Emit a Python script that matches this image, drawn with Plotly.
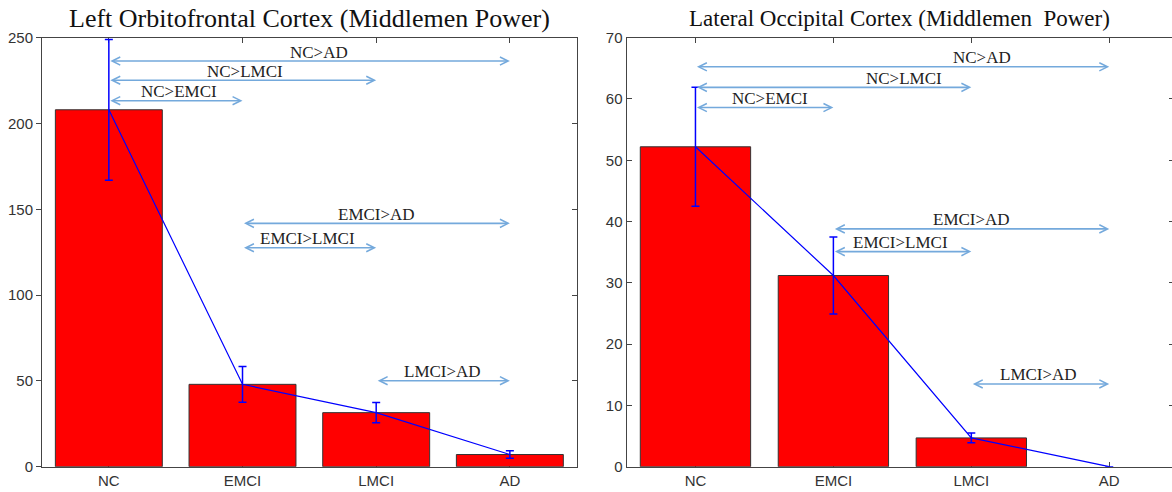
import plotly.graph_objects as go

# Group means and standard errors per region
categories = ["NC", "EMCI", "LMCI", "AD"]

lofc_mean = [208, 48, 31.5, 7.1]
lofc_err = [41, 10.4, 5.9, 2.2]

loc_mean = [52.2, 31.2, 4.7, 0]
loc_err = [9.7, 6.3, 0.8, None]

lofc_ticks = [0, 50, 100, 150, 200, 250]
loc_ticks = [0, 10, 20, 30, 40, 50, 60, 70]

# Significant group differences: (label, from group, to group, arrow level, label centre)
lofc_pairs = [
    ("NC>AD", "NC", "AD", 236.4, 1.57),
    ("NC>LMCI", "NC", "LMCI", 225.2, 1.02),
    ("NC>EMCI", "NC", "EMCI", 213.3, 0.525),
    ("EMCI>AD", "EMCI", "AD", 141.8, 2.0),
    ("EMCI>LMCI", "EMCI", "LMCI", 127.6, 1.486),
    ("LMCI>AD", "LMCI", "AD", 50.1, 2.495),
]
loc_pairs = [
    ("NC>AD", "NC", "AD", 65.25, 2.076),
    ("NC>LMCI", "NC", "LMCI", 61.9, 1.514),
    ("NC>EMCI", "NC", "EMCI", 58.6, 0.54),
    ("EMCI>AD", "EMCI", "AD", 38.8, 2.0),
    ("EMCI>LMCI", "EMCI", "LMCI", 35.1, 1.485),
    ("LMCI>AD", "LMCI", "AD", 13.5, 2.49),
]

W, H = 1172, 492
BAR_RED = "#ff0000"
BLUE = "#0000ff"
ARROW_BLUE = "#74a9dc"
AXIS_COL = "#444444"
TICK_FONT = dict(family="Liberation Sans, Arial, sans-serif", size=15, color="#333333")
SERIF = "Liberation Serif, Times New Roman, serif"

fig = go.Figure()


def add_panel(xa, ya, means, errs):
    # a zero-height bar gets no outline
    outline = [1 if m > 0 else 0 for m in means]
    fig.add_trace(go.Bar(
        x=categories, y=means, width=0.8,
        marker=dict(color=BAR_RED, line=dict(color="#333333", width=outline)),
        xaxis=xa, yaxis=ya, showlegend=False, hoverinfo="skip",
    ))
    fig.add_trace(go.Scatter(
        x=categories, y=means, mode="lines",
        line=dict(color=BLUE, width=1.2),
        error_y=dict(type="data", array=errs, visible=True,
                     color=BLUE, thickness=1.5, width=4),
        xaxis=xa, yaxis=ya, showlegend=False, hoverinfo="skip",
    ))


add_panel("x", "y", lofc_mean, lofc_err)
add_panel("x2", "y2", loc_mean, loc_err)

# Invisible traces carrying the right-hand tick axes
fig.add_trace(go.Scatter(x=[categories[0]], y=[0], mode="markers",
                         marker=dict(opacity=0), xaxis="x", yaxis="y3",
                         showlegend=False, hoverinfo="skip"))
fig.add_trace(go.Scatter(x=[categories[0]], y=[0], mode="markers",
                         marker=dict(opacity=0), xaxis="x2", yaxis="y4",
                         showlegend=False, hoverinfo="skip"))

y_dom = [(H - 466.7) / H, (H - 37.7) / H]
left_dom = [42 / W, 576.7 / W]
right_dom = [626.5 / W, 1.0]

xcommon = dict(
    type="category", categoryorder="array", categoryarray=categories,
    showline=True, linecolor=AXIS_COL, linewidth=1, mirror="ticks",
    ticks="inside", ticklen=5, tickcolor=AXIS_COL, tickfont=TICK_FONT,
    showgrid=False, zeroline=False, layer="below traces", automargin=False,
)
ycommon = dict(showgrid=False, zeroline=False, automargin=False,
               tickcolor=AXIS_COL, tickfont=TICK_FONT)

fig.update_layout(
    width=W, height=H,
    margin=dict(l=0, r=0, t=0, b=0, autoexpand=False),
    paper_bgcolor="white", plot_bgcolor="white",
    xaxis=dict(xcommon, domain=left_dom, range=[-0.5, 3.5], anchor="y"),
    xaxis2=dict(xcommon, domain=right_dom, range=[-0.5, 3.455], anchor="y2"),
    yaxis=dict(ycommon, domain=y_dom, range=[0, 250], tickvals=lofc_ticks,
               showline=True, linecolor=AXIS_COL, linewidth=1, mirror=True,
               ticks="outside", ticklen=5, anchor="x", layer="below traces"),
    yaxis3=dict(ycommon, domain=y_dom, range=[0, 250], tickvals=lofc_ticks,
                overlaying="y", side="right", anchor="x",
                showline=False, ticks="inside", ticklen=5,
                showticklabels=False),
    yaxis2=dict(ycommon, domain=y_dom, range=[0, 70], tickvals=loc_ticks,
                showline=True, linecolor=AXIS_COL, linewidth=1, mirror=False,
                ticks="inside", ticklen=5, anchor="x2", layer="below traces"),
    yaxis4=dict(ycommon, domain=y_dom, range=[0, 70], tickvals=loc_ticks,
                overlaying="y2", side="right", anchor="x2",
                showline=False, ticks="inside", ticklen=3,
                showticklabels=False),
)

annotations = []


def add_pairs(pairs, xr, yr):
    for label, a, b, level, text_x in pairs:
        annotations.append(dict(
            x=categories.index(b), y=level, ax=categories.index(a), ay=level,
            xref=xr, yref=yr, axref=xr, ayref=yr, text="",
            showarrow=True, arrowside="end+start",
            arrowhead=5, startarrowhead=5, arrowsize=1, startarrowsize=1,
            arrowwidth=1.6, arrowcolor=ARROW_BLUE, standoff=0, startstandoff=0,
        ))
        annotations.append(dict(
            x=text_x, y=level, xref=xr, yref=yr, text=label, showarrow=False,
            xanchor="center", yanchor="middle", yshift=9,
            font=dict(family=SERIF, size=17, color="#222222"),
        ))


add_pairs(lofc_pairs, "x", "y")
add_pairs(loc_pairs, "x2", "y2")

titles = [
    ("Left Orbitofrontal Cortex (Middlemen Power)", (42 + 576.7) / 2 / W, 26),
    ("Lateral Occipital Cortex (Middlemen  Power)", (626.5 + 1172) / 2 / W, 23),
]
for text, xc, size in titles:
    annotations.append(dict(
        x=xc, y=(H - 19) / H, xref="paper", yref="paper", text=text,
        showarrow=False, xanchor="center", yanchor="middle",
        font=dict(family=SERIF, size=size, color="#111111"),
    ))

fig.update_layout(annotations=annotations)

fig.write_html("out.html")
